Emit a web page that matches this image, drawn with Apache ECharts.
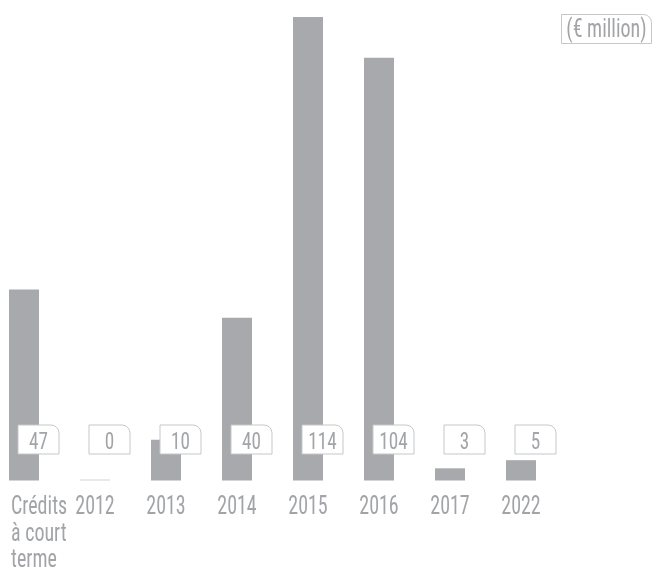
<!DOCTYPE html>
<html><head><meta charset="utf-8">
<script src="https://cdn.jsdelivr.net/npm/echarts@6/dist/echarts.min.js"></script>
<style>html,body{margin:0;padding:0;background:#fff}#c{width:655px;height:568px}</style>
</head><body><div id="c"></div>
<script>
const categories = ['Crédits\nà court\nterme', '2012', '2013', '2014', '2015', '2016', '2017', '2022'];
const values = [47, 0, 10, 40, 114, 104, 3, 5];
const unitLabel = '(€ million)';

const FONT = "'Roboto Condensed', Roboto, sans-serif";
const SX = 0.8;
const TXT = '#a2a4a7';
const BAR = '#a7a9ac';
const BORDER = '#c6c7c9';

const chart = echarts.init(document.getElementById('c'), null, {renderer: 'canvas'});
chart.setOption({
  animation: false,
  grid: {left: 24, right: 134, top: 17, bottom: 87.5},
  xAxis: {
    type: 'category', data: categories, boundaryGap: false,
    axisLine: {show: false}, axisTick: {show: false}, splitLine: {show: false},
    axisLabel: {show: false}
  },
  yAxis: {type: 'value', min: 0, max: 114, show: false, splitLine: {show: false}},
  graphic: [{
    type: 'group', right: 3, top: 14,
    children: [
      {type: 'rect', shape: {x: 0, y: 0, width: 90, height: 29, r: [0, 8, 0, 0]},
       style: {fill: '#fff', stroke: BORDER, lineWidth: 1}},
      {type: 'text', x: 45, y: 16, scaleX: SX,
       style: {text: unitLabel, x: 0, y: 0, align: 'center', verticalAlign: 'middle',
               fontFamily: FONT, fontSize: 25, fontWeight: 'normal', fill: TXT}}
    ]
  }],
  series: [
    {
      type: 'bar', data: values, barWidth: 30, barMinHeight: 1,
      itemStyle: {color: p => p.value === 0 ? '#d2d3d5' : BAR},
      z: 2
    },
    {
      type: 'custom', z: 5,
      data: values.map((v, i) => [i, v]),
      renderItem: (params, api) => {
        const i = api.value(0);
        const base = api.coord([i, 0]);
        const bx = base[0] - 6, by = base[1] - 55.5;
        return {
          type: 'group',
          children: [
            {type: 'rect', shape: {x: bx, y: by, width: 41, height: 29, r: [0, 8, 0, 0]},
             style: {fill: '#fff', stroke: BORDER, lineWidth: 1}},
            {type: 'text', x: bx + 20.5, y: by + 18, scaleX: SX,
             style: {text: String(api.value(1)), x: 0, y: 0, align: 'center', verticalAlign: 'middle',
                     fontFamily: FONT, fontSize: 24, fontWeight: 'normal', fill: TXT}},
            {type: 'text', x: i === 0 ? base[0] - 13 : base[0], y: base[1] + 14, scaleX: SX,
             style: {text: categories[i], x: 0, y: 0, align: i === 0 ? 'left' : 'center', verticalAlign: 'top',
                     lineHeight: 26.5, fontFamily: FONT, fontSize: 25, fontWeight: 'normal', fill: TXT}}
          ]
        };
      }
    }
  ]
});
</script></body></html>
